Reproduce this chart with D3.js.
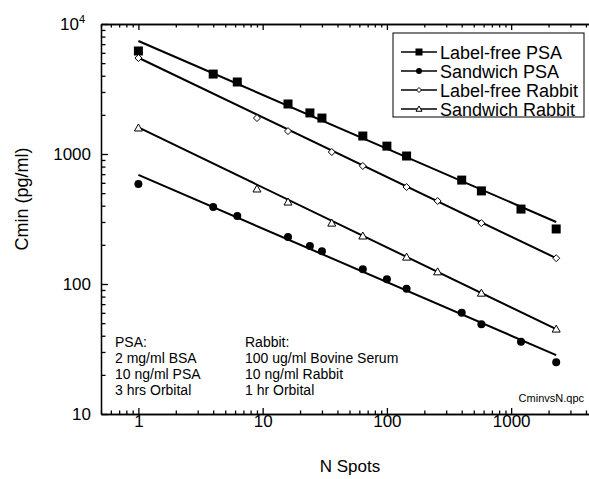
<!DOCTYPE html>
<html>
<head>
<meta charset="utf-8">
<script src="https://cdn.jsdelivr.net/npm/d3@7"></script>
<style>
  body { margin: 0; background: #fff; }
  svg { display: block; font-family: "Liberation Sans", Arial, sans-serif; }
  .axis path, .axis line { stroke: #000; stroke-width: 1.3; }
  .axis text { font-size: 17px; fill: #000; font-family: "Liberation Sans", Arial, sans-serif; }
</style>
</head>
<body>
<script>
// Data
var spotsPSA = [1, 4, 6.25, 16, 24, 30, 64, 100, 144, 400, 576, 1200, 2304];
var labelFreePSA = [6200, 4120, 3580, 2425, 2070, 1890, 1375, 1150, 965, 630, 520, 377, 265];
var sandwichPSA = [587, 391, 333, 230, 196, 179, 130, 109, 92, 60, 49, 36, 25];

var spotsRabbit = [1, 9, 16, 36, 64, 144, 256, 576, 2304];
var labelFreeRabbit = [5475, 1890, 1500, 1036, 809, 557, 435, 294, 158];
var sandwichRabbit = [1585, 538, 427, 294, 234, 161, 124, 85, 45];

// Power-law fit lines: value at first and last N
var fitRange = [1, 2304];
var fitStart = [7400, 690, 5500, 1600];
var fitEnd = [300, 28.4, 158, 45];

var seriesNames = ["Label-free PSA", "Sandwich PSA", "Label-free Rabbit", "Sandwich Rabbit"];
var seriesMarkers = ["square", "circle", "diamond", "triangle"];

var xTicks = [1, 10, 100, 1000];
var yTicks = [10, 100, 1000, 10000];

var psaNotes = ["PSA:", "2 mg/ml BSA", "10 ng/ml PSA", "3 hrs Orbital"];
var rabbitNotes = ["Rabbit:", "100 ug/ml Bovine Serum", "10 ng/ml Rabbit", "1 hr Orbital"];

// SVG area
var svgWidth = 589;
var svgHeight = 479;
var margin = { top: 24, right: -9, bottom: 65, left: 101 };
var chartWidth = svgWidth - margin.left - margin.right;
var chartHeight = svgHeight - margin.top - margin.bottom;

var svg = d3.select("body").append("svg")
  .attr("width", svgWidth)
  .attr("height", svgHeight);

var chartGroup = svg.append("g")
  .attr("transform", `translate(${margin.left}, ${margin.top})`);

var xScale = d3.scaleLog().domain([0.5, 5000]).range([0, chartWidth]);
var yScale = d3.scaleLog().domain([10, 10000]).range([chartHeight, 0]);

// minor tick values
function minorTicks(lo, hi) {
  var out = [];
  for (var e = Math.floor(Math.log10(lo)); e <= Math.ceil(Math.log10(hi)); e++) {
    for (var m = 2; m <= 9; m++) {
      var v = m * Math.pow(10, e);
      if (v >= lo && v <= hi) out.push(v);
    }
  }
  return out;
}
var xMinor = minorTicks(0.5, 5000);
var yMinor = minorTicks(10, 10000);

// bottom axis
chartGroup.append("g").classed("axis", true)
  .attr("transform", `translate(0, ${chartHeight})`)
  .call(d3.axisBottom(xScale).tickValues(xTicks).tickSizeInner(-6).tickSizeOuter(0)
    .tickPadding(1).tickFormat(d3.format("d")));
chartGroup.append("g").classed("axis", true)
  .attr("transform", `translate(0, ${chartHeight})`)
  .call(d3.axisBottom(xScale).tickValues(xMinor).tickSizeInner(-3.5).tickSizeOuter(0).tickFormat(""));

// top axis
chartGroup.append("g").classed("axis", true)
  .call(d3.axisTop(xScale).tickValues(xTicks).tickSizeInner(-6).tickSizeOuter(0).tickFormat(""));
chartGroup.append("g").classed("axis", true)
  .call(d3.axisTop(xScale).tickValues(xMinor).tickSizeInner(-3.5).tickSizeOuter(0).tickFormat(""));

// left axis
var leftG = chartGroup.append("g").classed("axis", true)
  .call(d3.axisLeft(yScale).tickValues(yTicks).tickSizeInner(-7).tickSizeOuter(0)
    .tickPadding(10).tickFormat(d3.format("d")));
chartGroup.append("g").classed("axis", true)
  .call(d3.axisLeft(yScale).tickValues(yMinor).tickSizeInner(-4.5).tickSizeOuter(0).tickFormat(""));

// 10^4 label with superscript
leftG.selectAll(".tick text").filter(d => d === 10000).each(function() {
  var t = d3.select(this).text("").attr("dx", "-6px");
  t.append("tspan").text("10");
  t.append("tspan").attr("dy", "-7").style("font-size", "11px").text("4");
});

// right axis (mostly off-image)
chartGroup.append("g").classed("axis", true)
  .attr("transform", `translate(${chartWidth}, 0)`)
  .call(d3.axisRight(yScale).tickValues(yTicks).tickSizeInner(-7).tickSizeOuter(0).tickFormat(""));

// fit lines
var fitLine = d3.line()
  .x(d => xScale(d[0]))
  .y(d => yScale(d[1]));

fitStart.forEach(function(v, i) {
  chartGroup.append("path")
    .attr("d", fitLine([[fitRange[0], v], [fitRange[1], fitEnd[i]]]))
    .attr("fill", "none")
    .attr("stroke", "#000")
    .attr("stroke-width", 2);
});

// marker drawing
function drawMarker(g, type, x, y, s) {
  if (type === "square") {
    g.append("rect").attr("x", x - s / 2).attr("y", y - s / 2)
      .attr("width", s).attr("height", s).attr("fill", "#000");
  } else if (type === "circle") {
    g.append("circle").attr("cx", x).attr("cy", y).attr("r", s / 2).attr("fill", "#000");
  } else if (type === "diamond") {
    var h = s / 2;
    g.append("path")
      .attr("d", `M${x},${y - h}L${x + h},${y}L${x},${y + h}L${x - h},${y}Z`)
      .attr("fill", "#fff").attr("stroke", "#000").attr("stroke-width", 1);
  } else {
    var r = s / 2;
    g.append("path")
      .attr("d", `M${x},${y - r}L${x + r},${y + r * 0.75}L${x - r},${y + r * 0.75}Z`)
      .attr("fill", "#fff").attr("stroke", "#000").attr("stroke-width", 1);
  }
}

var seriesData = [
  { x: spotsPSA, y: labelFreePSA, size: 9 },
  { x: spotsPSA, y: sandwichPSA, size: 8 },
  { x: spotsRabbit, y: labelFreeRabbit, size: 7 },
  { x: spotsRabbit, y: sandwichRabbit, size: 8 }
];

seriesData.forEach(function(s, i) {
  var g = chartGroup.append("g");
  s.y.forEach(function(v, j) {
    drawMarker(g, seriesMarkers[i], xScale(s.x[j]), yScale(v), s.size);
  });
});

// legend
var legend = svg.append("g").attr("transform", "translate(393, 33)");
legend.append("rect")
  .attr("width", 191).attr("height", 84)
  .attr("fill", "#fff").attr("stroke", "#000").attr("stroke-width", 1);

var legendSizes = [7, 6, 5, 6];
seriesNames.forEach(function(name, i) {
  var ly = 19 + i * 19;
  legend.append("line")
    .attr("x1", 8).attr("x2", 44).attr("y1", ly).attr("y2", ly)
    .attr("stroke", "#000").attr("stroke-width", 1.5);
  drawMarker(legend, seriesMarkers[i], 26, ly, legendSizes[i]);
  legend.append("text")
    .attr("x", 47).attr("y", ly + 6.5)
    .style("font-size", "18px")
    .text(name);
});

// notes
function drawNotes(lines, x) {
  chartGroup.append("g").selectAll("text").data(lines).enter()
    .append("text")
    .attr("x", x - margin.left)
    .attr("y", (d, i) => 347 - margin.top + i * 16)
    .style("font-size", "14px")
    .text(d => d);
}
drawNotes(psaNotes, 115);
drawNotes(rabbitNotes, 245);

svg.append("text")
  .attr("x", 584).attr("y", 402)
  .attr("text-anchor", "end")
  .style("font-size", "11px")
  .text("CminvsN.qpc");

// axis titles
svg.append("text")
  .attr("x", 350).attr("y", 472)
  .attr("text-anchor", "middle")
  .style("font-size", "17px")
  .text("N Spots");

svg.append("text")
  .attr("transform", "translate(28, 199) rotate(-90)")
  .attr("text-anchor", "middle")
  .style("font-size", "18px")
  .text("Cmin (pg/ml)");
</script>
</body>
</html>
